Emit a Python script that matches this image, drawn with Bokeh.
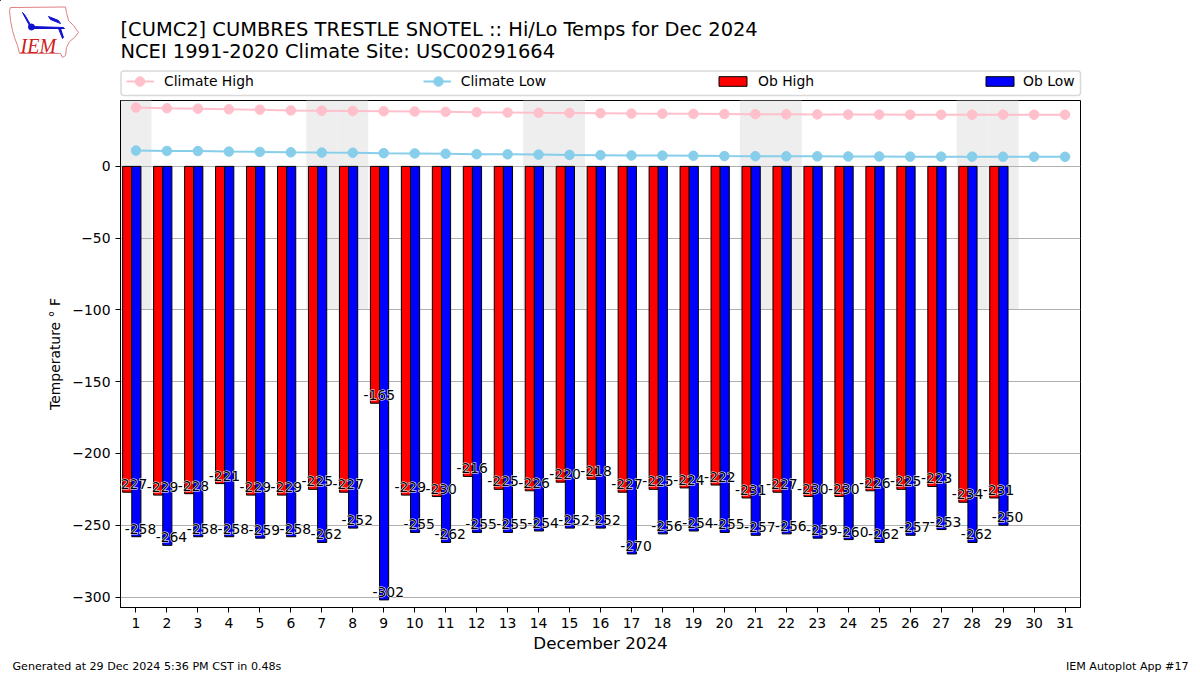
from bokeh.plotting import figure
from bokeh.layouts import column
from bokeh.models import (Label, Legend, LegendItem, Range1d, FixedTicker, BoxAnnotation)
from bokeh.embed import file_html
from bokeh.resources import INLINE

TITLE_1 = "[CUMC2] CUMBRES TRESTLE SNOTEL :: Hi/Lo Temps for Dec 2024"
TITLE_2 = "NCEI 1991-2020 Climate Site: USC00291664"
XLABEL = "December 2024"
YLABEL = "Temperature ° F"
FOOT_L = "Generated at 29 Dec 2024 5:36 PM CST in 0.48s"
FOOT_R = "IEM Autoplot App #17"

days_all = list(range(1, 32))
climate_high = [41, 40.5, 40.2, 39.8, 39.5, 39, 38.8, 38.6, 38.4, 38.2, 38, 37.7, 37.5, 37.3, 37.2, 37,
                36.8, 36.7, 36.6, 36.5, 36.4, 36.3, 36.2, 36.1, 36.1, 36, 36, 36, 36, 36, 36]
climate_low = [11, 10.8, 10.7, 10.3, 10.1, 9.8, 9.6, 9.5, 9.2, 9, 8.8, 8.5, 8.4, 8.2, 8, 7.8,
               7.6, 7.5, 7.4, 7.2, 7.1, 7, 7, 6.9, 6.9, 6.8, 6.8, 6.8, 6.7, 6.7, 6.7]
days_ob = list(range(1, 30))
ob_high = [-227, -229, -228, -221, -229, -229, -225, -227, -165, -229, -230, -216, -225, -226, -220,
           -218, -227, -225, -224, -222, -231, -227, -230, -230, -226, -225, -223, -234, -231]
ob_low = [-258, -264, -258, -258, -259, -258, -262, -252, -302, -255, -262, -255, -255, -254, -252,
          -252, -270, -256, -254, -255, -257, -256, -259, -260, -262, -257, -253, -262, -250]
weekend_days = [1, 7, 8, 14, 15, 21, 22, 28, 29]

def blank(h, y0, y1):
    f = figure(width=1200, height=h, output_backend="svg", toolbar_location=None,
               x_range=Range1d(0, 1200), y_range=Range1d(y1, y0), x_axis_type=None, y_axis_type=None,
               min_border=0, background_fill_color="white", border_fill_color="white", frame_align=False)
    f.outline_line_color = None
    return f

p = figure(width=1200, height=555, output_backend="svg", toolbar_location=None,
           x_range=Range1d(0.5, 31.5), y_range=Range1d(-307.3, 45.9),
           min_border_left=120, min_border_right=120, min_border_top=0, min_border_bottom=47,
           background_fill_color="white", border_fill_color="white", frame_align=False)
p.outline_line_color = "black"
p.outline_line_width = 1
p.xgrid.visible = False
p.ygrid.grid_line_color = "#b0b0b0"
p.ygrid.grid_line_width = 1.1
p.ygrid.level = "underlay"

for ax in (p.xaxis[0], p.yaxis[0]):
    ax.major_label_text_font = "DejaVu Sans"
    ax.major_label_text_font_size = "13.9px"
    ax.major_label_text_color = "black"
    ax.minor_tick_line_color = None
    ax.major_tick_out = 5
    ax.major_tick_in = 0
    ax.axis_label_text_font = "DejaVu Sans"
    ax.axis_label_text_font_style = "normal"
    ax.axis_label_text_color = "black"
    ax.axis_line_color = "black"
p.xaxis[0].ticker = FixedTicker(ticks=days_all)
p.yaxis[0].ticker = FixedTicker(ticks=[0, -50, -100, -150, -200, -250, -300])
p.yaxis[0].major_label_overrides = {v: ("\u2212" + str(-v) if v else "0") for v in [0, -50, -100, -150, -200, -250, -300]}
p.xaxis[0].axis_label = XLABEL
p.xaxis[0].axis_label_text_font_size = "16.7px"
p.xaxis[0].axis_label_standoff = 2
p.yaxis[0].axis_label = YLABEL
p.yaxis[0].axis_label_text_font_size = "13.9px"
p.yaxis[0].axis_label_standoff = 6

# weekend shading
p.quad(left=[d - 0.5 for d in weekend_days], right=[d + 0.5 for d in weekend_days],
       top=[45.9] * len(weekend_days), bottom=[-100] * len(weekend_days),
       fill_color="#eeeeee", line_color=None, level="underlay")

RED_OFF, BLUE_OFF = -0.283, 0.012
BAR_W = 0.295
p.vbar(x=[d + RED_OFF for d in days_ob], top=[0] * len(days_ob), bottom=ob_high, width=BAR_W,
       fill_color="red", line_color="black", line_width=1)
p.vbar(x=[d + BLUE_OFF for d in days_ob], top=[0] * len(days_ob), bottom=ob_low, width=BAR_W,
       fill_color="blue", line_color="black", line_width=1)

p.line(days_all, climate_high, line_color="pink", line_width=2)
p.scatter(days_all, climate_high, size=9.5, fill_color="pink", line_color="pink")
p.line(days_all, climate_low, line_color="skyblue", line_width=2)
p.scatter(days_all, climate_low, size=9.5, fill_color="skyblue", line_color="skyblue")

# value labels: black text on a thin white outlined copy
for days, vals, off in ((days_ob, ob_high, -0.145), (days_ob, ob_low, 0.145)):
    for d, v in zip(days, vals):
        for kw in (dict(text_color="white", text_outline_color="white"), dict(text_color="black")):
            p.add_layout(Label(x=d + off, y=v, y_offset=3, text=str(v), text_font="DejaVu Sans",
                               text_font_size="13.9px", text_align="center", text_baseline="bottom",
                               level="overlay", **kw))

# ---- header: title, logo, legend (page-pixel coordinates)
top = blank(100, 0, 100)
def lab(f, x, y, t, size, **kw):
    f.add_layout(Label(x=x, y=y, text=t, text_font="DejaVu Sans", text_font_size=size,
                       text_color="black", **kw))
lab(top, 120, 29, TITLE_1, "19.45px", text_baseline="middle")
lab(top, 120, 51, TITLE_2, "19.45px", text_baseline="middle")

iowa_x = [10, 65, 66, 68, 73, 78, 74, 69, 66, 65, 62, 60, 19, 17, 14, 12, 10, 9]
iowa_y = [7, 6.5, 12, 20, 25, 32, 37, 41, 47, 55, 57, 53, 53, 45, 37, 30, 20, 10]
top.patch(iowa_x, iowa_y, fill_alpha=0, line_color="#e08080", line_width=1)
top.patches([[31, 63, 64, 31], [48, 58, 60, 50], [22, 24, 31, 30], [58, 60, 63, 62]],
            [[26, 27, 28, 28], [16, 20, 23, 19], [12, 14, 26, 27], [28, 28, 37, 38]],
            fill_color="#1010d0", line_color="#1010d0", line_width=1)
top.scatter([31], [26.5], size=6, fill_color="#1010d0", line_color="#1010d0")
top.add_layout(Label(x=20, y=45, text="IEM", text_font="Liberation Serif", text_font_style="italic",
                     text_font_size="20px", text_color="#d02020", text_baseline="middle"))

top.add_layout(BoxAnnotation(left=120.5, right=1080, top=70.5, bottom=95, fill_color="white", fill_alpha=1,
                             line_color="#d9d9d9", line_alpha=1, line_width=1.5, border_radius=3, level="underlay"))
LEG_Y = 11
OFF = [-100, -99]   # legend-key renderers: their own data lies off the visible range
lk_hi = top.line(OFF, OFF, line_color="pink", line_width=2)
lk_lo = top.line(OFF, OFF, line_color="skyblue", line_width=2)
lk_ob_hi = top.vbar(x=OFF, top=OFF, bottom=OFF, width=1, fill_color="red", line_color="black", line_width=1)
lk_ob_lo = top.vbar(x=OFF, top=OFF, bottom=OFF, width=1, fill_color="blue", line_color="black", line_width=1)
common = dict(orientation="horizontal", label_text_font="DejaVu Sans", label_text_font_size="13.9px",
              label_text_color="black", label_height=10, padding=6, margin=0,
              border_line_color=None, background_fill_alpha=0)
top.add_layout(Legend(items=[LegendItem(label="Climate High", renderers=[lk_hi]),
                             LegendItem(label="Climate Low", renderers=[lk_lo])],
                      location=(126, LEG_Y), spacing=169, glyph_width=28, glyph_height=10, label_standoff=10, **common), "center")
top.add_layout(Legend(items=[LegendItem(label="Ob High", renderers=[lk_ob_hi])],
                      location=(715, LEG_Y), glyph_width=35, glyph_height=12, label_standoff=8, **common), "center")
top.add_layout(Legend(items=[LegendItem(label="Ob Low", renderers=[lk_ob_lo])],
                      location=(982, LEG_Y), glyph_width=35, glyph_height=12, label_standoff=6, **common), "center")
# markers in the two line keys of the legend
top.scatter([139.5, 438], [81, 81], size=9.5, fill_color=["pink", "skyblue"],
            line_color=["pink", "skyblue"], level="overlay")

# ---- footer
foot = blank(20, 655, 675)
lab(foot, 12, 666, FOOT_L, "11.1px", text_baseline="middle")
lab(foot, 1188, 666, FOOT_R, "11.1px", text_align="right", text_baseline="middle")

page = column(top, p, foot, spacing=0)
open("out.html", "w").write(file_html(page, INLINE))
